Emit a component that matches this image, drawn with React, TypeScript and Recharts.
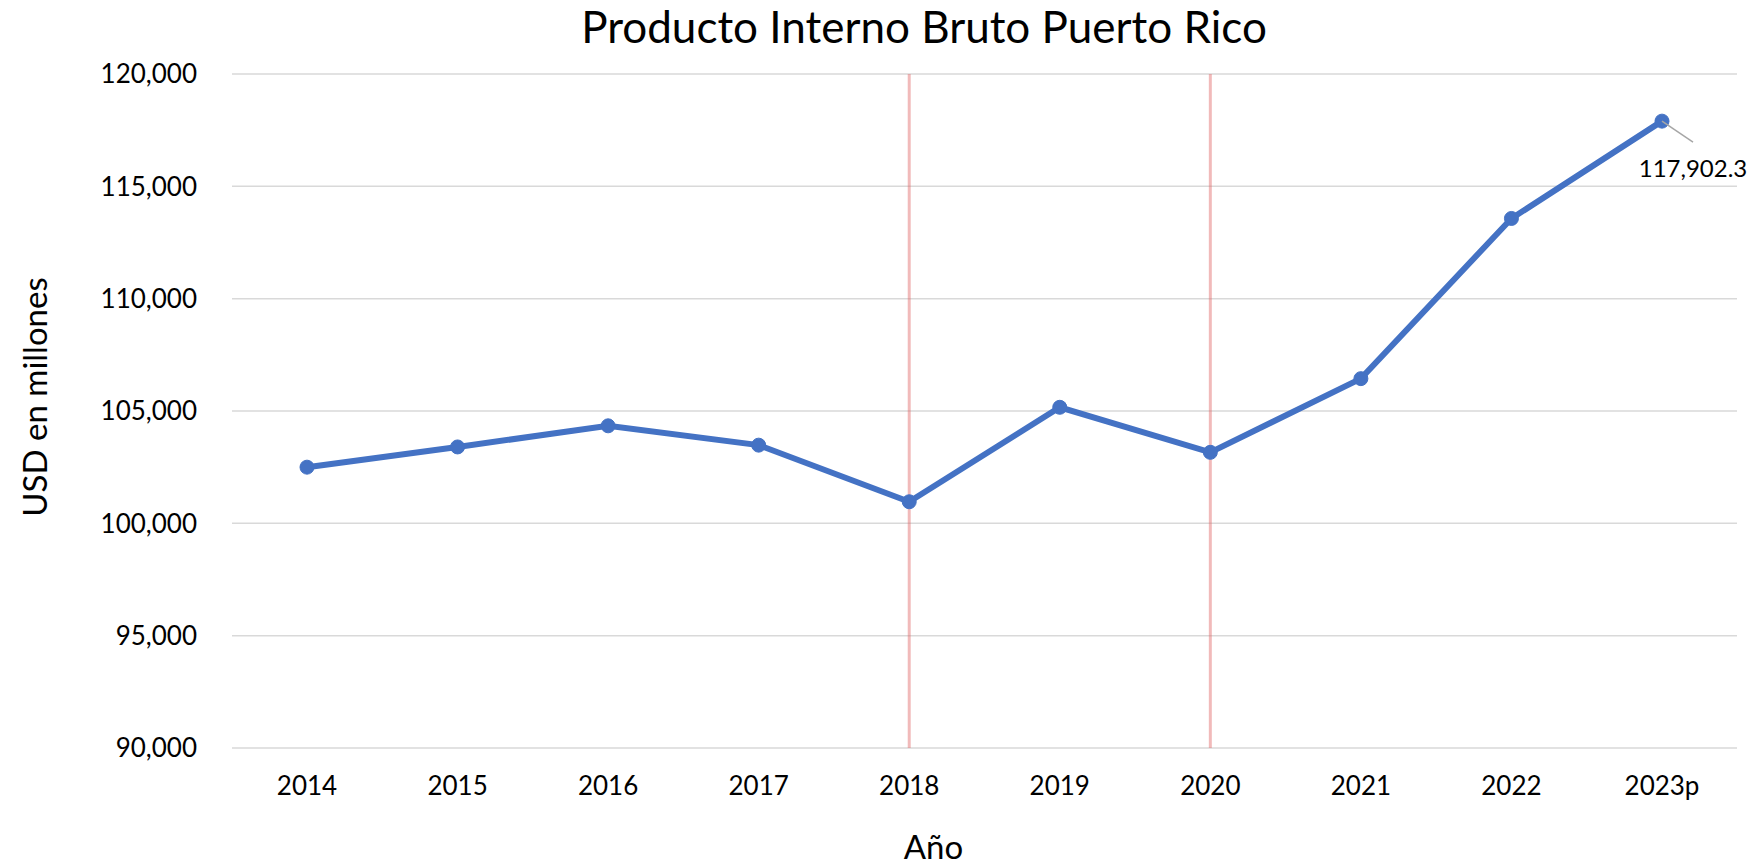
import React from 'react';
import { LineChart, Line, XAxis, YAxis, CartesianGrid, ReferenceLine, LabelList, Label } from 'recharts';

const years = ['2014', '2015', '2016', '2017', '2018', '2019', '2020', '2021', '2022', '2023p'];
const gdp = [102500, 103400, 104340, 103480, 100960, 105165, 103160, 106440, 113570, 117902.3];
const yTicks = [90000, 95000, 100000, 105000, 110000, 115000, 120000];
const markedYears = ['2018', '2020'];
const titleText = 'Producto Interno Bruto Puerto Rico';
const xTitle = 'Año';
const yTitle = 'USD en millones';

const data = years.map((year, i) => ({ year, gdp: gdp[i] }));

const FONT = 'Lato, "Open Sans", sans-serif';
const fmt = (v: number) => v.toLocaleString('en-US');
const fmtLabel = (v: number) => v.toLocaleString('en-US', { minimumFractionDigits: 1, maximumFractionDigits: 1 });

const LastLabel = (props: any) => {
  const { x, y, value, index } = props;
  if (index !== data.length - 1) return null;
  return (
    <g>
      <line x1={x} y1={y} x2={x + 31} y2={y + 21} stroke="#A6A6A6" strokeWidth={1.5} />
      <text x={x + 31} y={y + 46} textAnchor="middle" dominantBaseline="central" fontFamily={FONT} fontSize={24} fill="#000">
        {fmtLabel(value)}
      </text>
    </g>
  );
};

export default function App() {
  return (
    <div style={{ position: 'absolute', left: 0, top: 0, width: 1757, height: 865, background: '#fff' }}>
      <div
        style={{
          position: 'absolute', left: 424, width: 1000, top: 4, textAlign: 'center',
          fontFamily: FONT, fontSize: 44, lineHeight: '44px', color: '#000',
        }}
      >
        {titleText}
      </div>
      <LineChart width={1757} height={865} data={data} margin={{ top: 74, right: 20, bottom: 0, left: 0 }}>
        <CartesianGrid vertical={false} stroke="#D9D9D9" strokeWidth={1.5} />
        <XAxis
          dataKey="year"
          height={117}
          axisLine={false}
          tickLine={false}
          tickSize={0}
          tickMargin={29}
          padding={{ left: 75, right: 75 }}
          tick={{ fontFamily: FONT, fontSize: 26, fill: '#000' }}
          interval={0}
        >
          <Label
            content={(p: any) => {
              const vb = p.viewBox;
              return (
                <text x={vb.x + vb.width / 2 - 51} y={vb.y + 98} textAnchor="middle" dominantBaseline="central" fontFamily={FONT} fontSize={33} fill="#000">
                  {xTitle}
                </text>
              );
            }}
          />
        </XAxis>
        <YAxis
          width={232}
          domain={[90000, 120000]}
          ticks={yTicks}
          tickFormatter={fmt}
          axisLine={false}
          tickLine={false}
          tickSize={0}
          tickMargin={35}
          tick={{ fontFamily: FONT, fontSize: 26, fill: '#000' }}
          allowDataOverflow
        >
          <Label
            content={(p: any) => {
              const vb = p.viewBox;
              const cx = vb.x + 34;
              const cy = vb.y + vb.height / 2 - 14;
              return (
                <text x={cx} y={cy} transform={`rotate(-90 ${cx} ${cy})`} textAnchor="middle" dominantBaseline="central" fontFamily={FONT} fontSize={33} fill="#000">
                  {yTitle}
                </text>
              );
            }}
          />
        </YAxis>
        <Line
          type="linear"
          dataKey="gdp"
          stroke="#4472C4"
          strokeWidth={6}
          dot={{ r: 7, fill: '#4472C4', stroke: '#4472C4', strokeWidth: 1 }}
          activeDot={false}
          isAnimationActive={false}
        >
          <LabelList dataKey="gdp" content={LastLabel} />
        </Line>
        {markedYears.map((yr) => (
          <ReferenceLine key={yr} x={yr} stroke="#E06666" strokeOpacity={0.45} strokeWidth={3} />
        ))}
      </LineChart>
    </div>
  );
}
